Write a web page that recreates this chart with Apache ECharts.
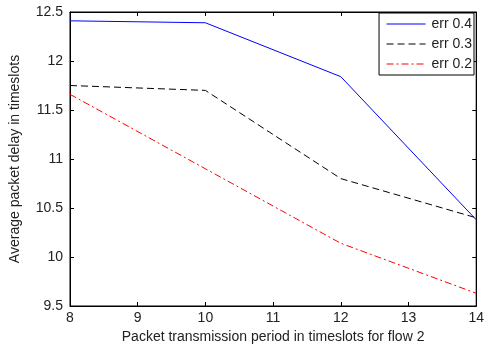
<!DOCTYPE html>
<html><head><meta charset="utf-8">
<script src="https://cdn.jsdelivr.net/npm/echarts@6/dist/echarts.min.js"></script>
<style>html,body{margin:0;padding:0;background:#fff}#c{width:487px;height:350px}</style>
</head><body><div id="c"></div>
<script>
const xValues = [8, 10, 12, 14];
const err04 = [12.41, 12.39, 11.84, 10.38];
const err03 = [11.75, 11.70, 10.80, 10.40];
const err02 = [11.66, 10.90, 10.14, 9.63];
const seriesNames = ['err 0.4', 'err 0.3', 'err 0.2'];
const xTicks = [8, 9, 10, 11, 12, 13, 14];
const yTicks = [9.5, 10, 10.5, 11, 11.5, 12, 12.5];

const font = 'Liberation Sans, Arial, sans-serif';
const txt = '#222';
const chart = echarts.init(document.getElementById('c'));
const pair = (xs, ys) => xs.map((x, i) => [x, ys[i]]);
const axisCommon = {
  axisLine: {show: true, lineStyle: {color: '#000', width: 1}},
  axisTick: {show: true, inside: true, length: 4, lineStyle: {color: '#000'}},
  splitLine: {show: false}
};
chart.setOption({
  animation: false,
  grid: {left: 65, right: 7, top: 12, bottom: 44, show: true, borderColor: '#000', borderWidth: 1, backgroundColor: '#fff'},
  legend: {
    right: 13, top: 13, orient: 'vertical', itemWidth: 39, itemHeight: 14, itemGap: 6, align: 'left',
    backgroundColor: '#fff', borderColor: '#000', borderWidth: 1, padding: [4, 2, 4, 7],
    textStyle: {fontFamily: font, fontSize: 14, color: txt, padding: [0, 0, 0, 1]},
    itemStyle: {opacity: 0},
    lineStyle: {width: 1},
    data: seriesNames
  },
  xAxis: [
    Object.assign({type: 'value', min: 8, max: 14, interval: 1,
      name: 'Packet transmission period in timeslots for flow 2', nameLocation: 'middle', nameGap: 22,
      nameTextStyle: {fontFamily: font, fontSize: 14, color: txt},
      axisLabel: {fontFamily: font, fontSize: 14, color: txt, margin: 5}}, axisCommon),
    Object.assign({type: 'value', position: 'top', min: 8, max: 14, interval: 1, axisLabel: {show: false}}, axisCommon)
  ],
  yAxis: [
    Object.assign({type: 'value', min: 9.5, max: 12.5, interval: 0.5,
      name: 'Average packet delay in timeslots', nameLocation: 'middle', nameGap: 48,
      nameTextStyle: {fontFamily: font, fontSize: 14, color: txt},
      axisLabel: {fontFamily: font, fontSize: 14, color: txt, margin: 7, formatter: v => String(v)}}, axisCommon),
    Object.assign({type: 'value', position: 'right', min: 9.5, max: 12.5, interval: 0.5, axisLabel: {show: false}}, axisCommon)
  ],
  series: [
    {name: seriesNames[0], type: 'line', data: pair(xValues, err04), symbol: 'none',
      lineStyle: {color: '#0000ff', width: 1, type: 'solid'}, itemStyle: {color: '#0000ff'}},
    {name: seriesNames[1], type: 'line', data: pair(xValues, err03), symbol: 'none',
      lineStyle: {color: '#000', width: 1, type: [7, 4]}, itemStyle: {color: '#000'}},
    {name: seriesNames[2], type: 'line', data: pair(xValues, err02), symbol: 'none',
      lineStyle: {color: '#ff0000', width: 1, type: [7, 3, 2, 3]}, itemStyle: {color: '#ff0000'}}
  ]
});
</script></body></html>
